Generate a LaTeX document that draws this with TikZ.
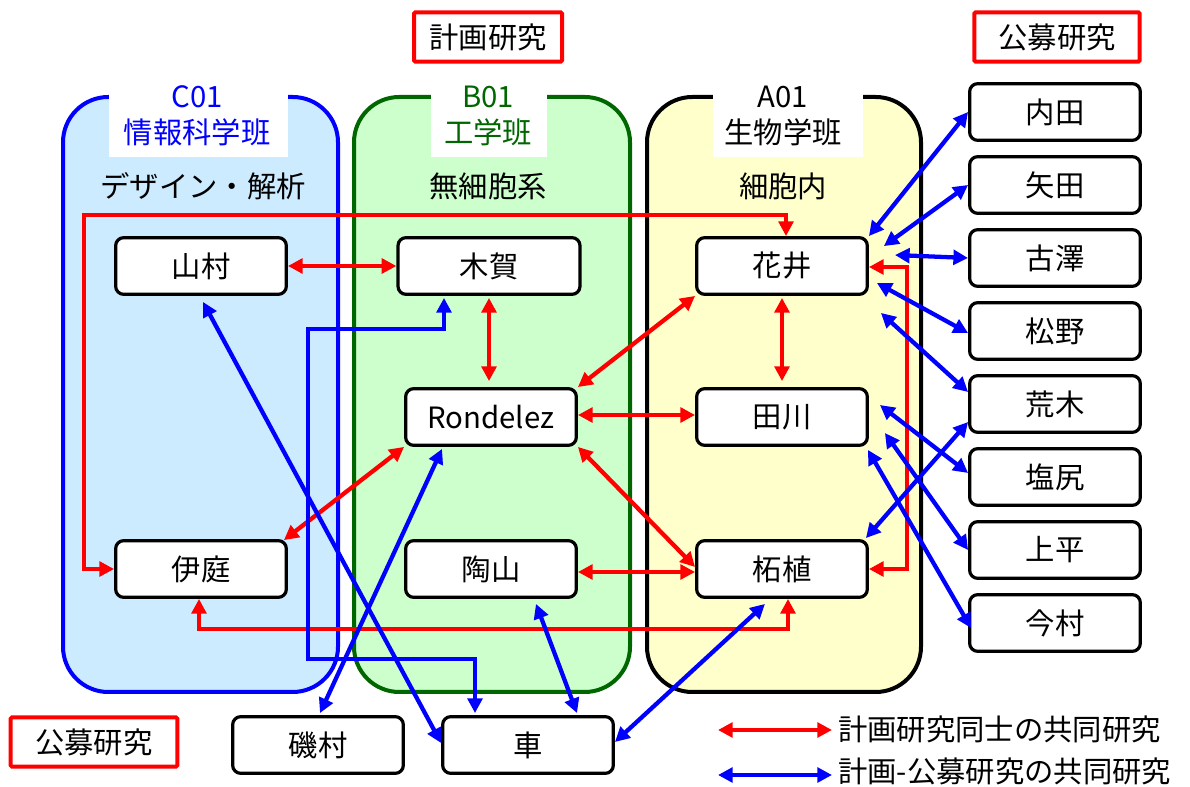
\documentclass[tikz,border=0pt]{standalone}
\usepackage{fontspec}
\setmainfont{Noto Sans CJK JP}
\usetikzlibrary{arrows.meta,calc}
\definecolor{gblue}{RGB}{0,0,255}
\definecolor{ggreen}{RGB}{0,102,0}
\definecolor{fblue}{RGB}{204,235,255}
\definecolor{fgreen}{RGB}{204,255,204}
\definecolor{fyellow}{RGB}{255,255,204}
\definecolor{gred}{RGB}{255,0,0}
\begin{document}
\begin{tikzpicture}[x=0.75pt,y=-0.75pt,
  font=\fontsize{22pt}{26pt}\selectfont,
  grp/.style={rounded corners=34pt, line width=3pt},
  patch/.style={fill=white, draw=none},
  nb/.style={draw, line width=2.4pt, rounded corners=6pt, fill=white,
    minimum width=128pt, minimum height=42.5pt, inner sep=0pt},
  titlebox/.style={draw=gred, line width=3pt, rounded corners=1pt, fill=white,
    minimum width=111pt, minimum height=37pt, inner sep=0pt},
  ra/.style={draw=gred, line width=3.2pt, {Triangle[length=11pt,width=11pt]}-{Triangle[length=11pt,width=11pt]}},
  ba/.style={draw=gblue, line width=3.2pt, {Triangle[length=11pt,width=11pt]}-{Triangle[length=11pt,width=11pt]}},
]
\useasboundingbox (0,0) rectangle (1190,787);

% groups
\draw[grp, draw=gblue, fill=fblue] (63,97) rectangle (338,692);
\draw[grp, draw=ggreen, fill=fgreen] (354,97) rectangle (630,692);
\draw[grp, draw=black, fill=fyellow] (647,97) rectangle (921,692);
\fill[patch] (109,80) rectangle (288,157);
\fill[patch] (431,80) rectangle (547,157);
\fill[patch] (713,80) rectangle (863,157);

\node[text=gblue] (c01) at (197,97) {C01};
\node[text=gblue] (c01n) at (197,132) {情報科学班};
\node[text=ggreen] (b01) at (488,97) {B01};
\node[text=ggreen] (b01n) at (488,132) {工学班};
\node (a01) at (783,97) {A01};
\node (a01n) at (783,132) {生物学班};
\node (c01s) at (203,186) {デザイン・解析};
\node (b01s) at (488,186) {無細胞系};
\node (a01s) at (783,186) {細胞内};

% title boxes
\node[titlebox] (keikaku) at (488,37) {計画研究};
\node[titlebox, minimum width=124pt] (koubo1) at (1057,37) {公募研究};
\node[titlebox, minimum width=125pt] (koubo2) at (94,742) {公募研究};

% nodes
\node[nb] (yamamura) at (201,266) {山村};
\node[nb, minimum width=136.5pt] (kiga) at (489,266) {木賀};
\node[nb] (rondelez) at (491,417) {Rondelez};
\node[nb] (iba) at (201,569) {伊庭};
\node[nb] (suyama) at (491,569) {陶山};
\node[nb] (hanai) at (782,266) {花井};
\node[nb] (tagawa) at (782,417) {田川};
\node[nb] (tsuge) at (782,569) {柘植};
\node[nb] (uchida) at (1055,112) {内田};
\node[nb] (yada) at (1055,185) {矢田};
\node[nb] (furusawa) at (1055,258) {古澤};
\node[nb] (matsuno) at (1055,331) {松野};
\node[nb] (araki) at (1055,404) {荒木};
\node[nb] (shiojiri) at (1055,477) {塩尻};
\node[nb] (uehira) at (1055,550) {上平};
\node[nb] (imamura) at (1055,623) {今村};
\node[nb] (isomura) at (318,745) {磯村};
\node[nb] (kuruma) at (528,745) {車};

% red arrows
\draw[ra] (yamamura.east) -- (kiga.west);
\draw[ra] ($(kiga.south)+(0,2)$) -- ($(kiga.south |- rondelez.north)+(0,-6)$);
\draw[ra] (rondelez.north east) -- (hanai.south west);
\draw[ra] ($(rondelez.east)+(0,-2)$) -- ($(rondelez.east -| tagawa.west)+(0,-2)$);
\draw[ra] (rondelez.south east) -- ($(tsuge.west)+(0,-2)$);
\draw[ra] (rondelez.south west) -- ($(iba.north east)+(-4,1)$);
\draw[ra] ($(suyama.east)+(0,3)$) -- ($(tsuge.west)+(0,3)$);
\draw[ra] ($(hanai.south)+(0,2)$) -- ($(tagawa.north)+(0,-6)$);
\draw[ra] (iba.west) -| (84,215) -| ($(hanai.north)+(4,0)$);
\draw[ra] ($(iba.south)+(-2,0)$) -- ++(0,30) -| ($(tsuge.south)+(6,0)$);
\draw[ra] ($(hanai.east)+(0,1)$) -- ++(38,0) |- (tsuge.east);

% blue arrows
\draw[ba] (hanai.north east) -- (uchida.west);
\draw[ba] ($(hanai.north east)+(15,10)$) -- (yada.west);
\draw[ba] ($(hanai.east)+(26,-11)$) -- (furusawa.west);
\draw[ba] ($(hanai.east)+(8,17)$) -- ($(matsuno.west)+(0,2)$);
\draw[ba] ($(hanai.south east)+(12,17)$) -- ($(araki.west)+(0,-12)$);
\draw[ba] ($(tagawa.east)+(11,-12)$) -- ($(shiojiri.west)+(0,-4)$);
\draw[ba] ($(tagawa.east)+(16,16)$) -- (uehira.west);
\draw[ba] ($(tagawa.south east)+(-1,3)$) -- ($(imamura.west)+(3,5)$);
\draw[ba] ($(tsuge.north east)+(-3,-1)$) -- ($(araki.west)+(0,18)$);
\draw[ba] ($(tsuge.south)+(-17,5)$) -- ($(kuruma.east)+(0,-3)$);
\draw[ba] ($(suyama.south)+(45,5)$) -- ($(kuruma.north)+(49,-2)$);
\draw[ba] ($(yamamura.south)+(2,6)$) -- ($(kuruma.west)+(0,-2)$);
\draw[ba] ($(kiga.south)+(-45,2)$) -- ++(0,31) -| (308,659) -| ($(kuruma.north)+(-53,-2)$);
\draw[ba] ($(rondelez.south)+(-49,2)$) -- ($(isomura.north)+(2,-2)$);

% legend
\coordinate (lra) at (718,730);
\coordinate (lrb) at (832,730);
\coordinate (lba) at (718,775);
\coordinate (lbb) at (832,775);
\draw[ra] (lra) -- (lrb);
\draw[ba] (lba) -- (lbb);
\node[anchor=west, inner sep=0pt] (leg1) at (838,729) {計画研究同士の共同研究};
\node[anchor=west, inner sep=0pt] (leg2) at (838,771) {計画-公募研究の共同研究};
\end{tikzpicture}
\end{document}
